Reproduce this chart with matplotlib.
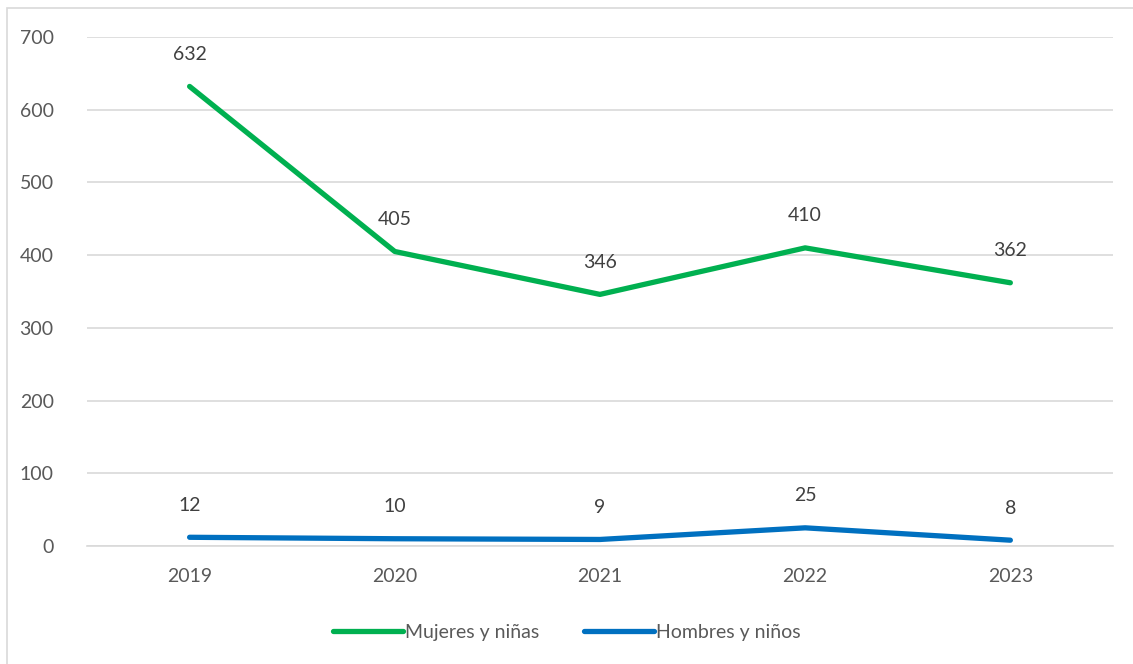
import matplotlib.pyplot as plt
from matplotlib.patches import Rectangle

years = ["2019", "2020", "2021", "2022", "2023"]
mujeres = [632, 405, 346, 410, 362]
hombres = [12, 10, 9, 25, 8]

plt.rcParams['font.family'] = ['Lato', 'DejaVu Sans']
text_color = '#595959'

fig = plt.figure(figsize=(11.33, 6.64), dpi=100)
ax = fig.add_axes([0.0768, 0.1777, 0.9055, 0.7666])

x = list(range(len(years)))
ax.plot(x, mujeres, color='#00B050', linewidth=3.8, solid_capstyle='round', label='Mujeres y niñas')
ax.plot(x, hombres, color='#0070C0', linewidth=3.8, solid_capstyle='round', label='Hombres y niños')

for xi, v in zip(x, mujeres):
    ax.annotate(str(v), (xi, v), xytext=(0, 23), textcoords='offset points',
                ha='center', va='center', fontsize=14, color='#404040')
for xi, v in zip(x, hombres):
    ax.annotate(str(v), (xi, v), xytext=(0, 23), textcoords='offset points',
                ha='center', va='center', fontsize=14, color='#404040')

ax.set_xlim(-0.5, len(years) - 0.5)
ax.set_ylim(0, 700)
ax.set_yticks(range(0, 701, 100))
ax.set_xticks(x)
ax.set_xticklabels(years)
ax.grid(axis='y', color='#D9D9D9', linewidth=1.2)
ax.set_axisbelow(True)
for s in ['top', 'right', 'left']:
    ax.spines[s].set_visible(False)
ax.spines['bottom'].set_color('#D9D9D9')
ax.spines['bottom'].set_linewidth(1.2)
ax.tick_params(axis='both', length=0, labelsize=14, colors=text_color)
ax.tick_params(axis='y', pad=24)
ax.tick_params(axis='x', pad=16)

leg = fig.legend(loc='center', bbox_to_anchor=(0.5, 0.048), ncol=2, frameon=False,
                 fontsize=14, handlelength=3.6, handletextpad=0.1, columnspacing=2.3)
for t in leg.get_texts():
    t.set_color(text_color)

fig.patches.append(Rectangle((7 / 1133, -0.01), 1.0, 1 - 8 / 664 + 0.01,
                             transform=fig.transFigure, fill=False,
                             edgecolor='#D9D9D9', linewidth=1.2))

fig.savefig('out.png', dpi=100)
